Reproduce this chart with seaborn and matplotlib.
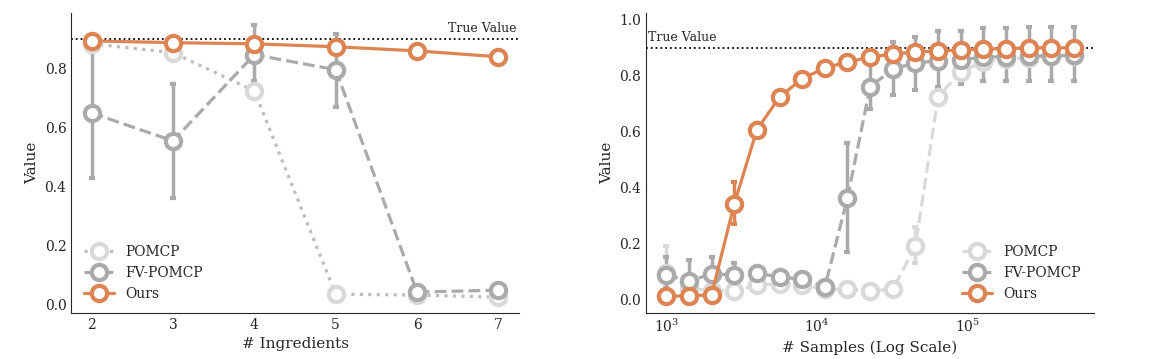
import numpy as np
import pandas as pd
import seaborn as sns
import matplotlib.pyplot as plt

# ---------------- left panel: number of ingredients ----------------
n_ingredients = [2, 3, 4, 5, 6, 7]
pomcp_ing = [0.885, 0.855, 0.725, 0.034, 0.031, 0.024]
pomcp_ing_lo = [0.88, 0.85, 0.72, 0.03, 0.028, 0.02]
pomcp_ing_hi = [0.89, 0.86, 0.73, 0.04, 0.035, 0.03]
fv_ing = [0.65, 0.555, 0.848, 0.797, 0.041, 0.048]
fv_ing_lo = [0.43, 0.36, 0.76, 0.67, 0.035, 0.04]
fv_ing_hi = [0.89, 0.75, 0.95, 0.92, 0.05, 0.055]
ours_ing = [0.895, 0.889, 0.885, 0.875, 0.861, 0.841]

# ---------------- right panel: number of samples ----------------
n_samples = [1000, 1414, 2000, 2828, 4000, 5657, 8000, 11314, 16000, 22627,
             32000, 45255, 64000, 90510, 128000, 181019, 256000, 362039, 512000]
pomcp_smp = [0.095, 0.04, 0.03, 0.03, 0.05, 0.055, 0.05, 0.035, 0.035, 0.03,
             0.035, 0.19, 0.724, 0.815, 0.85, 0.86, 0.865, 0.87, 0.87]
pomcp_smp_lo = [0.06, 0.04, 0.03, 0.03, 0.05, 0.055, 0.05, 0.035, 0.035, 0.03,
                0.035, 0.13, 0.70, 0.80, 0.84, 0.85, 0.86, 0.86, 0.86]
pomcp_smp_hi = [0.19, 0.04, 0.03, 0.03, 0.05, 0.055, 0.05, 0.035, 0.035, 0.03,
                0.035, 0.26, 0.75, 0.83, 0.86, 0.87, 0.87, 0.88, 0.88]
fv_smp = [0.086, 0.065, 0.09, 0.087, 0.093, 0.079, 0.072, 0.043, 0.362, 0.76,
          0.824, 0.846, 0.853, 0.857, 0.867, 0.868, 0.871, 0.872, 0.873]
fv_smp_lo = [0.04, 0.02, 0.04, 0.05, 0.07, 0.07, 0.065, 0.04, 0.17, 0.68,
             0.73, 0.75, 0.76, 0.77, 0.78, 0.78, 0.78, 0.78, 0.78]
fv_smp_hi = [0.15, 0.14, 0.15, 0.13, 0.12, 0.09, 0.08, 0.05, 0.56, 0.86,
             0.92, 0.94, 0.96, 0.96, 0.97, 0.97, 0.975, 0.975, 0.975]
ours_smp = [0.01, 0.012, 0.015, 0.34, 0.606, 0.724, 0.789, 0.828, 0.849, 0.867,
            0.878, 0.885, 0.889, 0.892, 0.896, 0.897, 0.9, 0.9, 0.9]
ours_smp_lo = [0.01, 0.012, 0.015, 0.27, 0.59, 0.724, 0.789, 0.828, 0.849, 0.867,
               0.878, 0.885, 0.889, 0.892, 0.896, 0.897, 0.9, 0.9, 0.9]
ours_smp_hi = [0.01, 0.012, 0.015, 0.42, 0.63, 0.724, 0.789, 0.828, 0.849, 0.867,
               0.878, 0.885, 0.889, 0.892, 0.896, 0.897, 0.9, 0.9, 0.9]

true_value = 0.9

sns.set_style('white')
plt.rcParams['font.family'] = ['DejaVu Serif']
plt.rcParams['axes.edgecolor'] = '#262626'

orange = sns.color_palette('deep')[1]
grey = '#aaaaaa'
light = '#d9d9d9'


def draw(ax, x, series, dashes_list):
    for (name, y, lo, hi, color, lcolor), ls in zip(series, dashes_list):
        y = np.array(y)
        if lo is not None:
            ax.errorbar(x, y, yerr=[y - np.array(lo), np.array(hi) - y], fmt='none',
                        ecolor=color, elinewidth=2.5, capsize=2.5, capthick=3, zorder=2)
        df = pd.DataFrame({'x': x, 'y': y})
        sns.lineplot(data=df, x='x', y='y', ax=ax, color=lcolor, linestyle=ls,
                     linewidth=2.3, marker='o', markersize=11, markerfacecolor='white',
                     markeredgecolor=color, markeredgewidth=3, label=name, zorder=3)


fig, axes = plt.subplots(1, 2, figsize=(11.5, 3.59), dpi=100)
ax1, ax2 = axes

draw(ax1, n_ingredients,
     [('POMCP', pomcp_ing, pomcp_ing_lo, pomcp_ing_hi, light, '#bcbcbc'),
      ('FV-POMCP', fv_ing, fv_ing_lo, fv_ing_hi, grey, grey),
      ('Ours', ours_ing, None, None, orange, orange)],
     [':', '--', '-'])
ax1.axhline(true_value, color='black', linestyle=':', linewidth=1.3, zorder=1)
ax1.text(7.22, true_value + 0.015, 'True Value', ha='right', va='bottom', fontsize=9)
ax1.set_xlim(1.75, 7.25)
ax1.set_ylim(-0.03, 0.99)
ax1.set_xticks(n_ingredients)
ax1.set_yticks([0.0, 0.2, 0.4, 0.6, 0.8])
ax1.set_xlabel('# Ingredients', fontsize=11)
ax1.set_ylabel('Value', fontsize=11)
ax1.legend(loc='lower left', frameon=False, fontsize=10, handlelength=2.2)

draw(ax2, n_samples,
     [('POMCP', pomcp_smp, pomcp_smp_lo, pomcp_smp_hi, light, light),
      ('FV-POMCP', fv_smp, fv_smp_lo, fv_smp_hi, grey, grey),
      ('Ours', ours_smp, ours_smp_lo, ours_smp_hi, orange, orange)],
     ['--', '--', '-'])
ax2.set_xscale('log')
ax2.axhline(true_value, color='black', linestyle=':', linewidth=1.3, zorder=1)
ax2.text(760, true_value + 0.015, 'True Value', ha='left', va='bottom', fontsize=9)
ax2.set_xlim(736, 692000)
ax2.set_ylim(-0.05, 1.025)
ax2.set_yticks([0.0, 0.2, 0.4, 0.6, 0.8, 1.0])
ax2.set_xlabel('# Samples (Log Scale)', fontsize=11)
ax2.set_ylabel('Value', fontsize=11)
ax2.legend(loc='lower right', frameon=False, fontsize=10, handlelength=2.2)

for ax in axes:
    sns.despine(ax=ax)
    ax.tick_params(labelsize=10, length=0)

plt.subplots_adjust(left=0.062, right=0.951, bottom=0.128, top=0.964, wspace=0.285)
fig.savefig('out.png')
